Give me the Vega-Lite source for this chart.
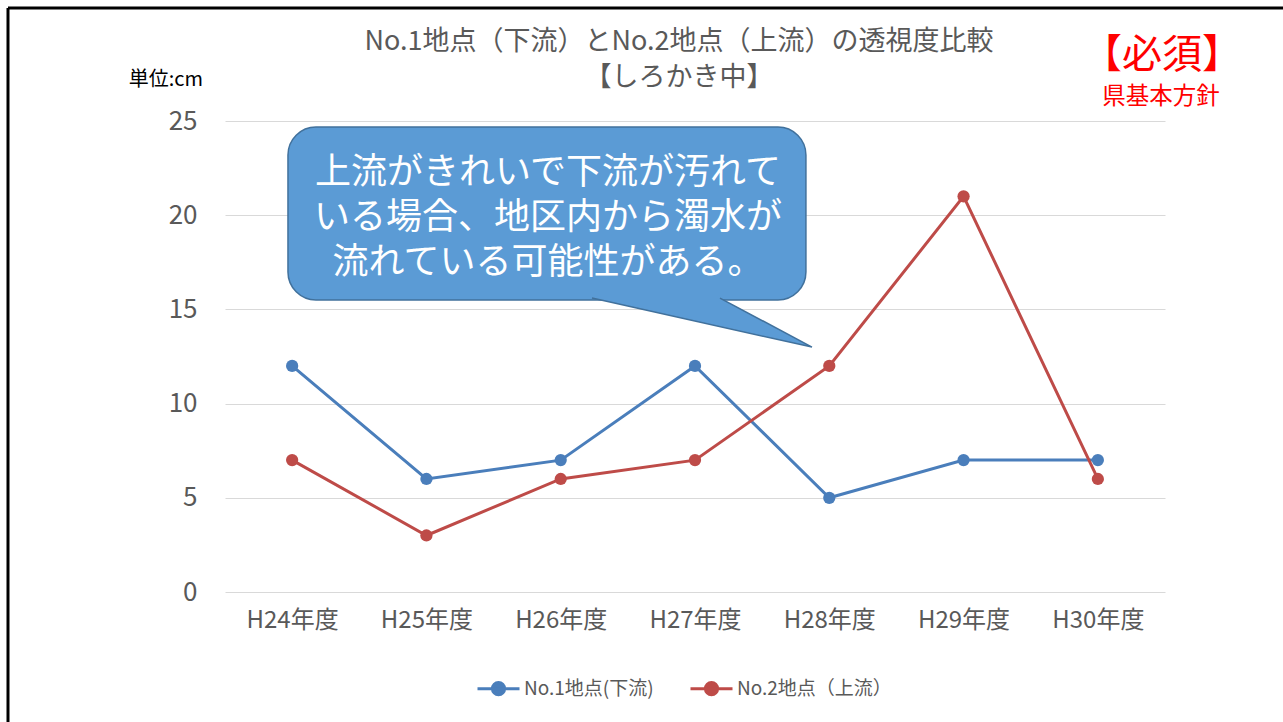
{
  "$schema": "https://vega.github.io/schema/vega-lite/v6.json",
  "width": 940,
  "height": 471,
  "autosize": {"type": "none"},
  "padding": {"left": 225, "top": 121, "right": 118, "bottom": 130},
  "background": "white",
  "config": {"font": "Noto Sans CJK JP", "view": {"stroke": null}},
  "datasets": {
    "series": [
      {"year": "H24年度", "site": "No.1地点(下流)", "v": 12},
      {"year": "H25年度", "site": "No.1地点(下流)", "v": 6},
      {"year": "H26年度", "site": "No.1地点(下流)", "v": 7},
      {"year": "H27年度", "site": "No.1地点(下流)", "v": 12},
      {"year": "H28年度", "site": "No.1地点(下流)", "v": 5},
      {"year": "H29年度", "site": "No.1地点(下流)", "v": 7},
      {"year": "H30年度", "site": "No.1地点(下流)", "v": 7},
      {"year": "H24年度", "site": "No.2地点（上流）", "v": 7},
      {"year": "H25年度", "site": "No.2地点（上流）", "v": 3},
      {"year": "H26年度", "site": "No.2地点（上流）", "v": 6},
      {"year": "H27年度", "site": "No.2地点（上流）", "v": 7},
      {"year": "H28年度", "site": "No.2地点（上流）", "v": 12},
      {"year": "H29年度", "site": "No.2地点（上流）", "v": 21},
      {"year": "H30年度", "site": "No.2地点（上流）", "v": 6}
    ],
    "box": [{"x": 0.469, "x2": 4.326, "y": 24.68, "y2": 15.5}],
    "tail": [
      {"o": 1, "x": 2.733, "y": 15.6},
      {"o": 2, "x": 4.371, "y": 13.0},
      {"o": 3, "x": 3.686, "y": 15.6}
    ],
    "boxtext": [
      {"t": "上流がきれいで下流が汚れて", "x": 2.405, "y": 22.25},
      {"t": "いる場合、地区内から濁水が", "x": 2.405, "y": 19.85},
      {"t": "流れている可能性がある。", "x": 2.405, "y": 17.45}
    ],
    "titles": [
      {"t": "No.1地点（下流）とNo.2地点（上流）の透視度比較", "x": 3.381, "y": 29.19},
      {"t": "【しろかき中】", "x": 3.381, "y": 27.28}
    ],
    "unit": [{"t": "単位:cm", "x": -0.44, "y": 27.2}],
    "must": [{"t": "【必須】", "x": 6.977, "y": 28.45}],
    "policy": [{"t": "県基本方針", "x": 6.97, "y": 26.27}],
    "frame": [
      {"x": -1.616, "x2": 8.5, "y": 31.0, "y2": 31.0},
      {"x": -1.616, "x2": -1.616, "y": 31.0, "y2": -12}
    ]
  },
  "layer": [
    {
      "data": {"name": "series"},
      "mark": {"type": "line", "strokeWidth": 3, "point": {"filled": true, "size": 150}, "clip": false},
      "encoding": {
        "x": {
          "field": "year", "type": "nominal", "sort": null,
          "scale": {"paddingInner": 0, "paddingOuter": 0.5},
          "axis": {"title": null, "labelAngle": 0, "labelFontSize": 24, "labelColor": "#595959", "labelPadding": 16, "domain": false, "ticks": false}
        },
        "y": {
          "field": "v", "type": "quantitative",
          "scale": {"domain": [0, 25], "nice": false},
          "axis": {"title": null, "values": [0, 5, 10, 15, 20, 25], "labelFontSize": 26, "labelColor": "#595959", "labelPadding": 28, "domain": false, "ticks": false, "gridColor": "#d9d9d9", "gridWidth": 1}
        },
        "color": {
          "field": "site", "type": "nominal",
          "scale": {"domain": ["No.1地点(下流)", "No.2地点（上流）"], "range": ["#4a7ebb", "#be4b48"]},
          "legend": {
            "title": null,
            "orient": "none",
            "legendX": 251,
            "legendY": 545,
            "direction": "horizontal",
            "columns": 2,
            "columnPadding": 30,
            "labelFontSize": 19,
            "labelColor": "#595959",
            "labelOffset": 3,
            "symbolType": "M-1,0H1M-0.29,0A0.29,0.29,0,1,1,0.29,0A0.29,0.29,0,1,1,-0.29,0Z",
            "symbolSize": 1764,
            "symbolStrokeWidth": 3,
            "encode": {"symbols": {"update": {"fill": {"scale": "color", "field": "value"}}}}
          }
        }
      }
    },
    {
      "data": {"name": "box"},
      "mark": {"type": "rect", "cornerRadius": 28, "fill": "#5b9bd5", "stroke": "#41719c", "strokeWidth": 1.5, "clip": false},
      "encoding": {
        "x": {"field": "x", "type": "quantitative", "scale": {"domain": [0, 7], "nice": false, "zero": false}, "axis": null},
        "x2": {"field": "x2"},
        "y": {"field": "y", "type": "quantitative", "scale": {"domain": [0, 25], "nice": false}, "axis": null},
        "y2": {"field": "y2"}
      }
    },
    {
      "data": {"name": "tail"},
      "mark": {"type": "line", "fill": "#5b9bd5", "stroke": "#41719c", "strokeWidth": 1.5, "clip": false},
      "encoding": {
        "x": {"field": "x", "type": "quantitative", "scale": {"domain": [0, 7], "nice": false, "zero": false}, "axis": null},
        "y": {"field": "y", "type": "quantitative", "scale": {"domain": [0, 25], "nice": false}, "axis": null},
        "order": {"field": "o"}
      }
    },
    {
      "data": {"name": "boxtext"},
      "mark": {"type": "text", "fontSize": 36, "color": "white", "align": "center", "baseline": "middle", "clip": false},
      "encoding": {
        "x": {"field": "x", "type": "quantitative", "scale": {"domain": [0, 7], "nice": false, "zero": false}, "axis": null},
        "y": {"field": "y", "type": "quantitative", "scale": {"domain": [0, 25], "nice": false}, "axis": null},
        "text": {"field": "t"}
      }
    },
    {
      "data": {"name": "titles"},
      "mark": {"type": "text", "fontSize": 27, "color": "#595959", "align": "center", "baseline": "middle", "clip": false},
      "encoding": {
        "x": {"field": "x", "type": "quantitative", "scale": {"domain": [0, 7], "nice": false, "zero": false}, "axis": null},
        "y": {"field": "y", "type": "quantitative", "scale": {"domain": [0, 25], "nice": false}, "axis": null},
        "text": {"field": "t"}
      }
    },
    {
      "data": {"name": "unit"},
      "mark": {"type": "text", "fontSize": 20, "color": "black", "align": "center", "baseline": "middle", "clip": false},
      "encoding": {
        "x": {"field": "x", "type": "quantitative", "scale": {"domain": [0, 7], "nice": false, "zero": false}, "axis": null},
        "y": {"field": "y", "type": "quantitative", "scale": {"domain": [0, 25], "nice": false}, "axis": null},
        "text": {"field": "t"}
      }
    },
    {
      "data": {"name": "must"},
      "mark": {"type": "text", "fontSize": 40, "color": "#ff0000", "align": "center", "baseline": "middle", "clip": false},
      "encoding": {
        "x": {"field": "x", "type": "quantitative", "scale": {"domain": [0, 7], "nice": false, "zero": false}, "axis": null},
        "y": {"field": "y", "type": "quantitative", "scale": {"domain": [0, 25], "nice": false}, "axis": null},
        "text": {"field": "t"}
      }
    },
    {
      "data": {"name": "policy"},
      "mark": {"type": "text", "fontSize": 23.5, "color": "#ff0000", "align": "center", "baseline": "middle", "clip": false},
      "encoding": {
        "x": {"field": "x", "type": "quantitative", "scale": {"domain": [0, 7], "nice": false, "zero": false}, "axis": null},
        "y": {"field": "y", "type": "quantitative", "scale": {"domain": [0, 25], "nice": false}, "axis": null},
        "text": {"field": "t"}
      }
    },
    {
      "data": {"name": "frame"},
      "mark": {"type": "rule", "color": "black", "strokeWidth": 3, "clip": false},
      "encoding": {
        "x": {"field": "x", "type": "quantitative", "scale": {"domain": [0, 7], "nice": false, "zero": false}, "axis": null},
        "x2": {"field": "x2"},
        "y": {"field": "y", "type": "quantitative", "scale": {"domain": [0, 25], "nice": false}, "axis": null},
        "y2": {"field": "y2"}
      }
    }
  ],
  "resolve": {"scale": {"x": "independent", "y": "independent"}}
}
